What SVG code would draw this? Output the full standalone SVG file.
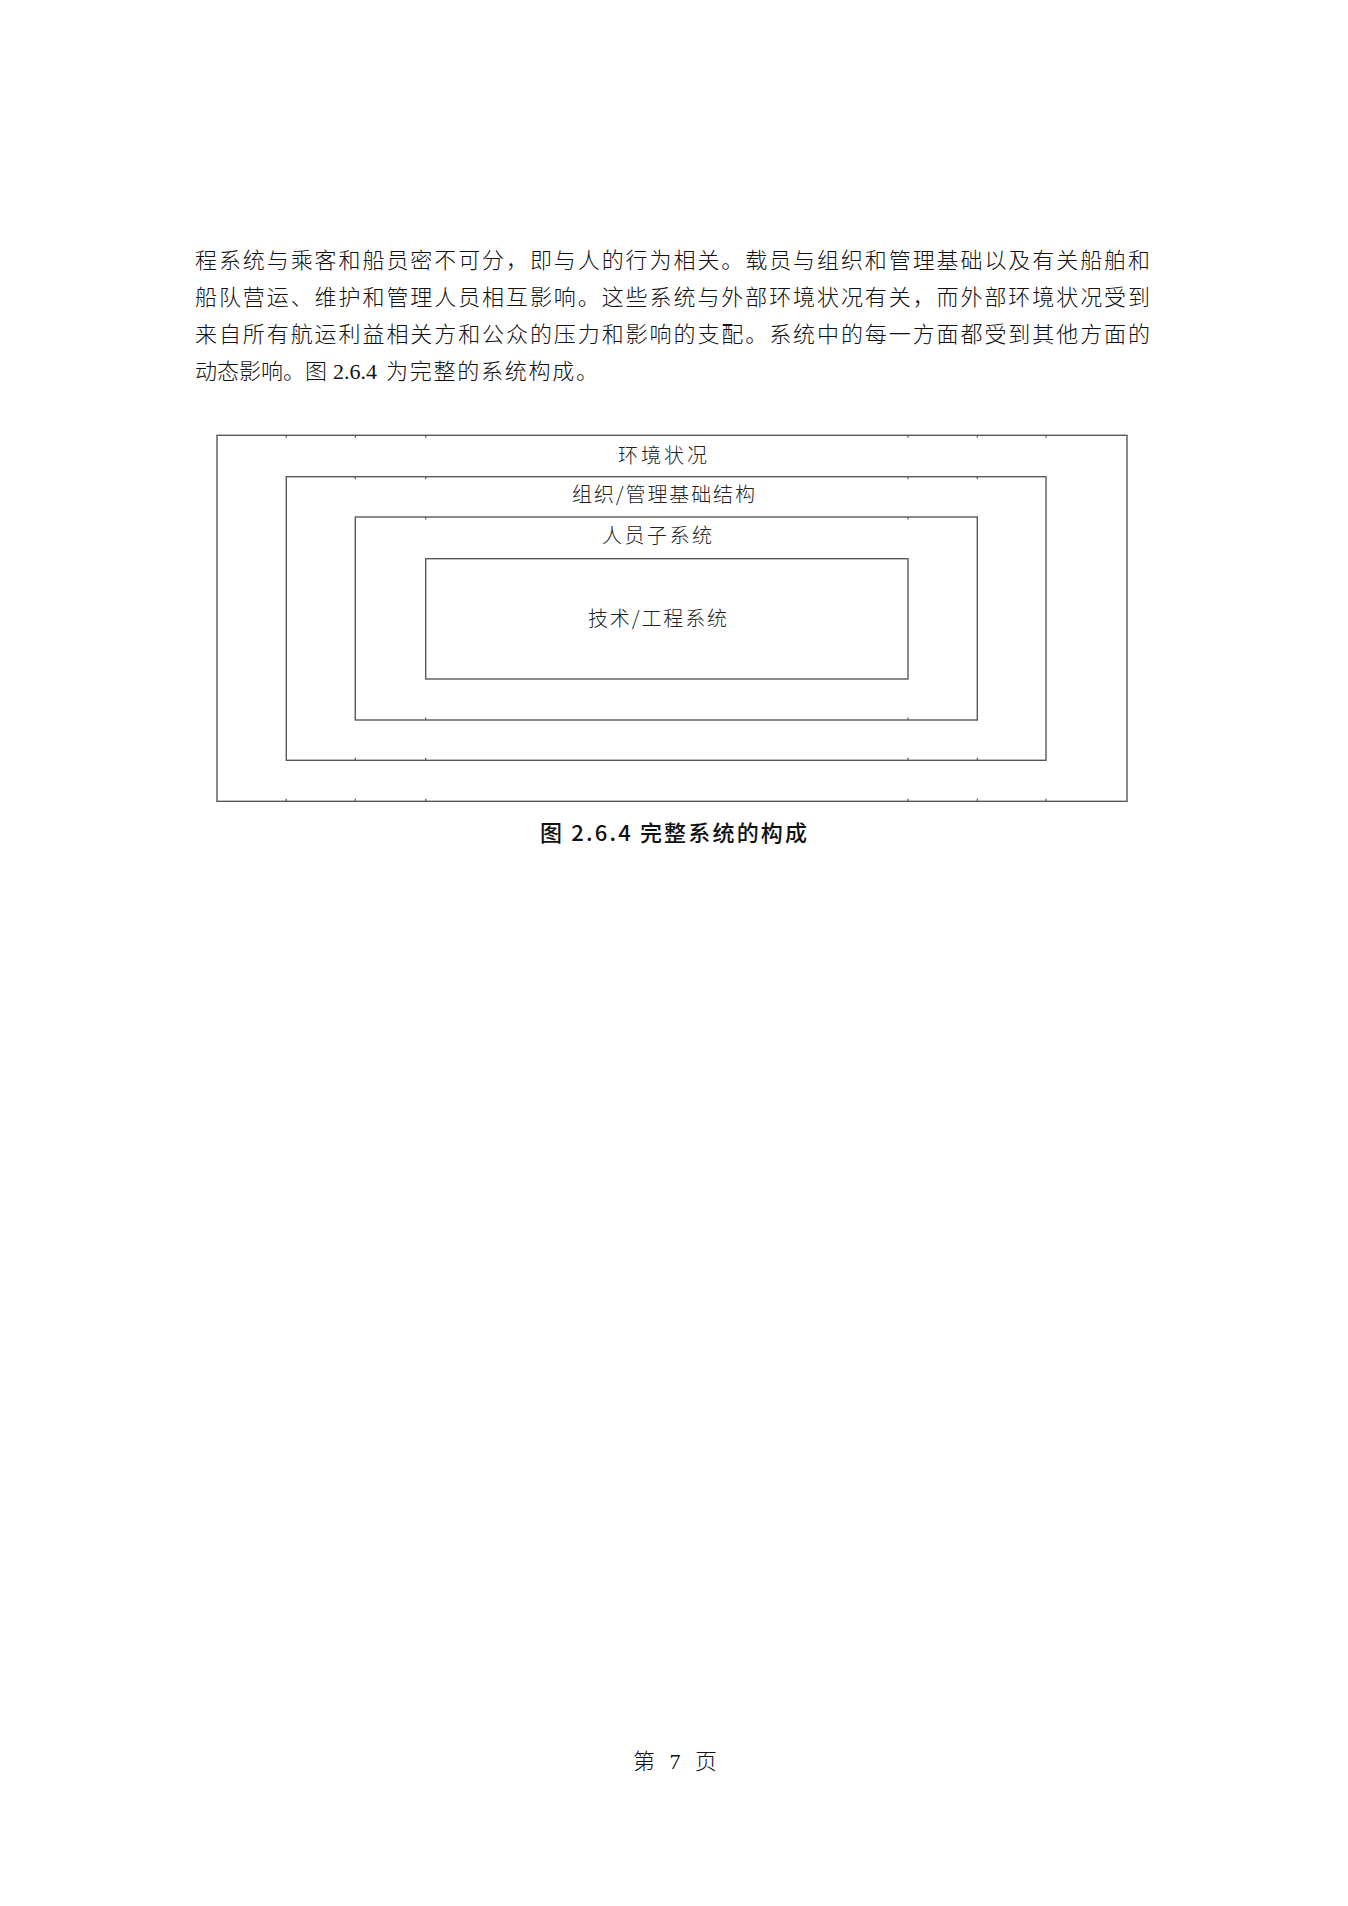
<svg xmlns="http://www.w3.org/2000/svg" width="1348" height="1906" viewBox="0 0 1348 1906">
<style>
.body{font-family:"Liberation Serif","Noto Sans CJK SC",serif;font-size:22px;fill:#111;font-weight:300}
.lbl{font-family:"Noto Sans CJK SC",sans-serif;font-size:20px;fill:#222;font-weight:300}
.cap{font-family:"Noto Sans CJK SC",sans-serif;font-size:22px;fill:#111;font-weight:500}
.box{fill:none;stroke:#5a5a5a;stroke-width:1.4}
.tick{stroke:#5a5a5a;stroke-width:1.2}
</style>
<rect width="1348" height="1906" fill="#fff"/>
<g id="paragraph">
<text class="body" x="195" y="268" textLength="955" lengthAdjust="spacing">程系统与乘客和船员密不可分，即与人的行为相关。载员与组织和管理基础以及有关船舶和</text>
<text class="body" x="195" y="305" textLength="955" lengthAdjust="spacing">船队营运、维护和管理人员相互影响。这些系统与外部环境状况有关，而外部环境状况受到</text>
<text class="body" x="195" y="342" textLength="955" lengthAdjust="spacing">来自所有航运利益相关方和公众的压力和影响的支配。系统中的每一方面都受到其他方面的</text>
<text class="body" x="195" y="379">动态影响。图</text>
<text class="body" x="333" y="379">2.6.4</text>
<text class="body" x="386" y="379" textLength="212" lengthAdjust="spacing">为完整的系统构成。</text>
</g>
<g id="node-environment">
<rect class="box" x="217" y="435.3" width="910" height="366"/>
<text class="lbl" x="618" y="463" textLength="89" lengthAdjust="spacing">环境状况</text>
</g>
<g id="node-organization">
<rect class="box" x="286.3" y="476.7" width="759.7" height="283.6"/>
<text class="lbl" x="572" y="502" textLength="183" lengthAdjust="spacing">组织/管理基础结构</text>
</g>
<g id="node-personnel">
<rect class="box" x="355.3" y="517" width="622" height="203"/>
<text class="lbl" x="602" y="543" textLength="110" lengthAdjust="spacing">人员子系统</text>
</g>
<g id="node-technical">
<rect class="box" x="425.7" y="558.7" width="482.3" height="120.3"/>
<text class="lbl" x="588" y="626" textLength="139" lengthAdjust="spacing">技术/工程系统</text>
</g>
<g id="ticks">
<path class="tick" d="M286.3 435.3v2.5M355.3 435.3v2.5M425.7 435.3v2.5M908 435.3v2.5M977.3 435.3v2.5M1046 435.3v2.5M286.3 801.3v-2.5M355.3 801.3v-2.5M425.7 801.3v-2.5M908 801.3v-2.5M977.3 801.3v-2.5M1046 801.3v-2.5M355.3 476.7v2.5M425.7 476.7v2.5M908 476.7v2.5M977.3 476.7v2.5M355.3 760.3v-2.5M425.7 760.3v-2.5M908 760.3v-2.5M977.3 760.3v-2.5M425.7 517v2.5M908 517v2.5M425.7 720v-2.5M908 720v-2.5"/>
</g>
<g id="caption">
<text class="cap" x="540" y="841" textLength="267" lengthAdjust="spacing">图 2.6.4 完整系统的构成</text>
</g>
<g id="footer">
<text class="body" x="633" y="1769" textLength="84" lengthAdjust="spacing">第 7 页</text>
</g>
</svg>
